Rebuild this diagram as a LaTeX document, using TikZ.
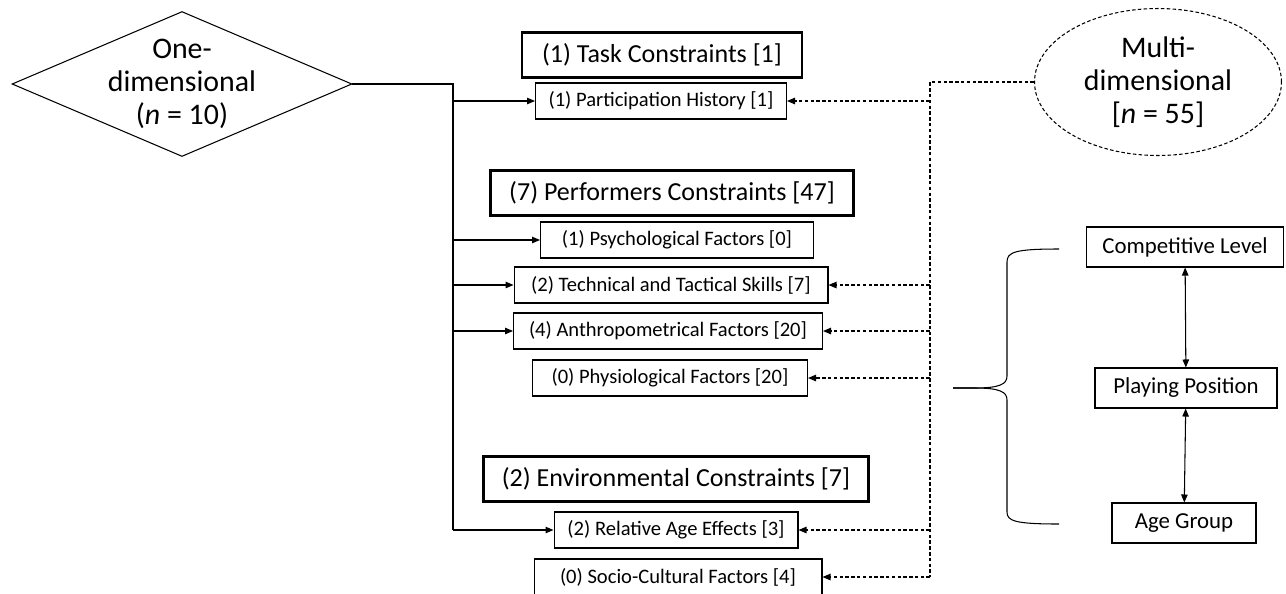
\documentclass[tikz,border=0pt]{standalone}
\usepackage{fontspec}
\setmainfont{Carlito}
\usetikzlibrary{arrows.meta,shapes.geometric}

\begin{document}
\begin{tikzpicture}[x=0.02cm, y=-0.02cm,
    constraint/.style={rectangle, draw, line width=1.5pt, minimum height=0.9cm,
                       font=\fontsize{14.8}{17}\selectfont},
    factor/.style={rectangle, draw, line width=0.6pt, minimum height=0.72cm,
                   font=\fontsize{11.7}{14}\selectfont},
    level/.style={rectangle, draw, line width=0.6pt, minimum height=0.8cm,
                  font=\fontsize{13}{15}\selectfont},
    study/.style={draw, line width=0.6pt, align=center, font=\fontsize{17}{18.8}\selectfont},
    link/.style={-{Triangle[length=1.6mm, width=1.3mm]}, line width=0.6pt},
    dlink/.style={link, dash pattern=on 2pt off 1.3pt},
    pair/.style={{Triangle[length=1.6mm, width=1.3mm]}-{Triangle[length=1.6mm, width=1.3mm]},
                 line width=0.6pt}
  ]
  \useasboundingbox (0,0) rectangle (1286,593);

  \node[study, diamond, aspect=2.345, minimum width=6.8cm, minimum height=2.9cm, inner sep=-4pt] (one)
    at (182,84) {One-\\ dimensional\\ (\textit{n} = 10)};
  \node[study, ellipse, dash pattern=on 2pt off 1.3pt, minimum width=4.94cm,
    minimum height=2.94cm, inner sep=0pt] (multi)
    at (1158,82) {Multi-\\ dimensional\\ {[}\textit{n} = 55]};

  % constraint groups and their factors
  \node[constraint, minimum width=5.6cm] (task) at (662,55) {(1) Task Constraints [1]};
  \node[factor, minimum width=5.02cm] (part) at (661,101) {(1) Participation History [1]};
  \node[constraint, minimum width=7.26cm] (perf) at (672,193) {(7) Performers Constraints [47]};
  \node[factor, minimum width=5.46cm] (psych) at (677,240) {(1) Psychological Factors [0]};
  \node[factor, minimum width=6.28cm] (tech) at (671,285) {(2) Technical and Tactical Skills [7]};
  \node[factor, minimum width=6.18cm] (anthro) at (668,331) {(4) Anthropometrical Factors [20]};
  \node[factor, minimum width=5.5cm] (physio) at (670,378) {(0) Physiological Factors [20]};
  \node[constraint, minimum width=7.7cm] (env) at (676,479) {(2) Environmental Constraints [7]};
  \node[factor, minimum width=4.88cm] (relage) at (676,530) {(2) Relative Age Effects [3]};
  \node[factor, minimum width=5.76cm] (socio) at (678,577) {(0) Socio-Cultural Factors [4]};

  \node[level, minimum width=3.94cm] (comp) at (1185,247) {Competitive Level};
  \node[level, minimum width=3.64cm] (play) at (1186,388) {Playing Position};
  \node[level, minimum width=2.88cm] (age) at (1184,523) {Age Group};

  % one-dimensional trunk
  \coordinate (otop) at (453,84);
  \coordinate (obot) at (otop |- relage);
  \draw[line width=0.6pt] (one.east) -- (otop) -- (obot);
  \draw[link] (obot) -- (relage.west);
  \foreach \f in {part,psych,tech,anthro}
    \draw[link] (otop |- \f.west) -- (\f.west);

  % multi-dimensional trunk
  \coordinate (mtop) at (930,82);
  \coordinate (mbot) at (mtop |- socio);
  \draw[line width=0.6pt, dash pattern=on 2pt off 1.3pt] (multi.west) -- (mtop) -- (mbot);
  \foreach \f in {part,tech,anthro,physio,relage,socio}
    \draw[dlink] (mtop |- \f.east) -- (\f.east);

  % brace
  \coordinate (tip) at (953,388);
  \draw[line width=0.6pt] (1059,249) .. controls (1015,249) and (1007,252) .. (1007,262)
    -- (1007,376) .. controls (1007,384) and (1000,388) .. (975,388) -- (tip);
  \draw[line width=0.6pt] (tip) -- (975,388) .. controls (1000,388) and (1007,392) .. (1007,400)
    -- (1007,512) .. controls (1007,521) and (1015,524) .. (1059,524);

  \draw[pair] (comp) -- (play);
  \draw[pair] (play) -- (age);
\end{tikzpicture}
\end{document}
